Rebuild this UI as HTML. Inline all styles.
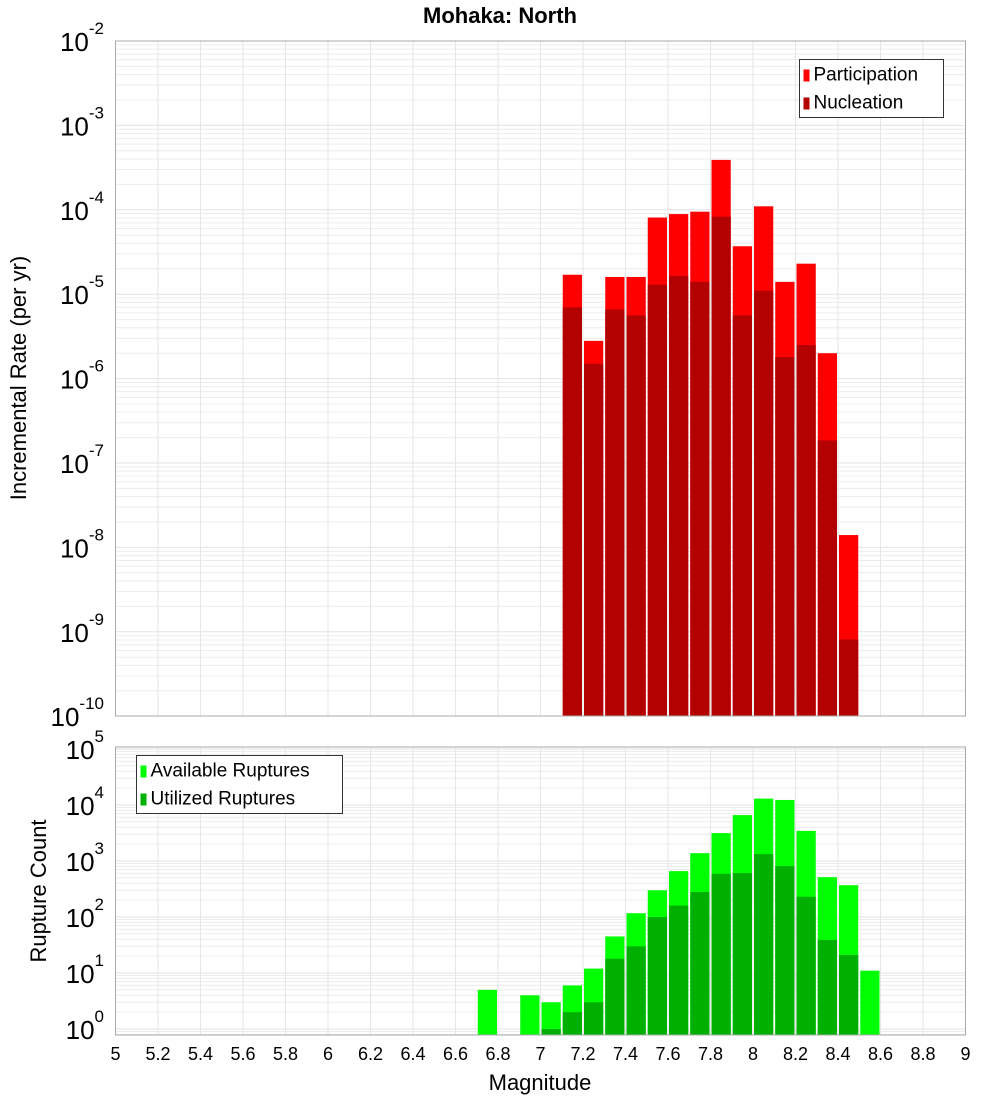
<!DOCTYPE html>
<html><head><meta charset="utf-8"><style>
body{margin:0;background:#fff;}
svg{display:block;font-family:"Liberation Sans","DejaVu Sans",sans-serif;}
</style></head><body>
<svg id="chart" width="1000" height="1100" viewBox="0 0 1000 1100"></svg>
<script>
const mags=[7.1,7.2,7.3,7.4,7.5,7.6,7.7,7.8,7.9,8.0,8.1,8.2,8.3,8.4];
const participation=[1.7e-5,2.8e-6,1.6e-5,1.6e-5,8.1e-5,8.9e-5,9.5e-5,3.9e-4,3.7e-5,1.1e-4,1.4e-5,2.3e-5,2.0e-6,1.4e-8];
const nucleation=[7e-6,1.5e-6,6.6e-6,5.6e-6,1.3e-5,1.65e-5,1.4e-5,8.3e-5,5.6e-6,1.1e-5,1.8e-6,2.5e-6,1.85e-7,8.1e-10];
const countMags=[6.7,6.9,7.0,7.1,7.2,7.3,7.4,7.5,7.6,7.7,7.8,7.9,8.0,8.1,8.2,8.3,8.4,8.5];
const available=[5,4,3,6,12,45,117,300,660,1380,3150,6600,13000,12300,3450,515,370,11];
const utilized=[0,0,1,2,3,18,30,100,160,280,590,610,1330,810,230,39,21,0];
const xTicks=[5,5.2,5.4,5.6,5.8,6,6.2,6.4,6.6,6.8,7,7.2,7.4,7.6,7.8,8,8.2,8.4,8.6,8.8,9];
const topDecades=[-2,-3,-4,-5,-6,-7,-8,-9,-10];
const botDecades=[5,4,3,2,1,0];

const NS="http://www.w3.org/2000/svg";
const svg=document.getElementById('chart');
function el(tag,attrs,parent){const e=document.createElementNS(NS,tag);for(const k in attrs)e.setAttribute(k,attrs[k]);(parent||svg).appendChild(e);return e;}
const L=115.5,R=965.5;
const x=m=>L+(m-5)/4*(R-L);
const T1=41,B1=716;
const yTop=v=>T1+(-2-Math.log10(v))*84.4;
const T2=747,B2=1035;
const yBot=v=>1029-Math.log10(v)*56;

function panel(T,B,yfun,lo,hi,name){
  const g=el('g',{});
  
  
  for(let d=lo;d<hi;d++){for(let k=1;k<10;k++){const yy=yfun(k*Math.pow(10,d));if(yy<T||yy>B)continue;
    el('line',{x1:L,x2:R,y1:yy,y2:yy,stroke:k==1?'#e2e2e2':'#ececec','stroke-width':1},g);}}
  for(const t of xTicks){el('line',{x1:x(t),x2:x(t),y1:T,y2:B,stroke:'#e6e6e6','stroke-width':1},g);}
}
panel(T1,B1,yTop,-10,-1,'top');
panel(T2,B2,yBot,-1,6,'bottom');

const bw=x(5.1)-x(5)-2;
function bars(ms,vals,yfun,B,color,name){
  ms.forEach((m,i)=>{if(vals[i]<=0)return;const yy=Math.max(yfun(vals[i]),0);
    const r=el('rect',{x:x(m)+1,y:yy,width:bw,height:B-yy,fill:color});
    
    });
}
bars(mags,participation,yTop,B1,'#ff0000','participation');
bars(mags,nucleation,yTop,B1,'#b30000','nucleation');
bars(countMags,available,yBot,B2,'#00ff00','available');
bars(countMags,utilized,yBot,B2,'#00b000','utilized');

el('rect',{x:L,y:T1,width:R-L,height:B1-T1,fill:'none',stroke:'#aaa','stroke-width':1});
el('rect',{x:L,y:T2,width:R-L,height:B2-T2,fill:'none',stroke:'#aaa','stroke-width':1});

function ylabel(d,yy,name){
  const t=el('text',{x:104,y:yy+10,'text-anchor':'end','font-size':26,fill:'#000'});
  
  
  t.textContent='10';
  const s=el('tspan',{dy:-17,'font-size':17},t);s.textContent=String(d);
}
topDecades.forEach(d=>{ylabel(d,yTop(Math.pow(10,d)),'y-tick-top');});
botDecades.forEach(d=>{ylabel(d,yBot(Math.pow(10,d)),'y-tick-bottom');});
// adjust: top labels shifted ~ like reference
xTicks.forEach(t=>{const tx=el('text',{x:x(t),y:1060,'text-anchor':'middle','font-size':18,fill:'#000'});
  
  
  tx.textContent=String(t);});

function txt(s,attrs,name){const t=el('text',attrs);t.textContent=s;return t;}
txt('Mohaka: North',{x:500,y:23,'text-anchor':'middle','font-size':22,'font-weight':'bold'},'chart-title');
txt('Magnitude',{x:540,y:1090,'text-anchor':'middle','font-size':22},'x-axis-title');
txt('Incremental Rate (per yr)',{x:0,y:0,'text-anchor':'middle','font-size':22,transform:'translate(26,378) rotate(-90)'},'y-axis-title-top');
txt('Rupture Count',{x:0,y:0,'text-anchor':'middle','font-size':22,transform:'translate(46,891) rotate(-90)'},'y-axis-title-bottom');

function legend(lx,ly,w,items,name){
  const g=el('g',{});
  el('rect',{x:lx,y:ly,width:w,height:58,fill:'#fff',stroke:'#333','stroke-width':1},g);
  items.forEach((it,i)=>{el('rect',{x:lx+4,y:ly+10+i*28,width:6,height:12,fill:it[1]},g);
    const t=el('text',{x:lx+14,y:ly+21+i*28,'font-size':19},g);t.textContent=it[0];});
}
legend(799.5,59.5,144,[['Participation','#ff0000'],['Nucleation','#b30000']],'legend-top');
legend(136.5,755.5,206,[['Available Ruptures','#00ff00'],['Utilized Ruptures','#00b000']],'legend-bottom');
</script>
</body></html>
